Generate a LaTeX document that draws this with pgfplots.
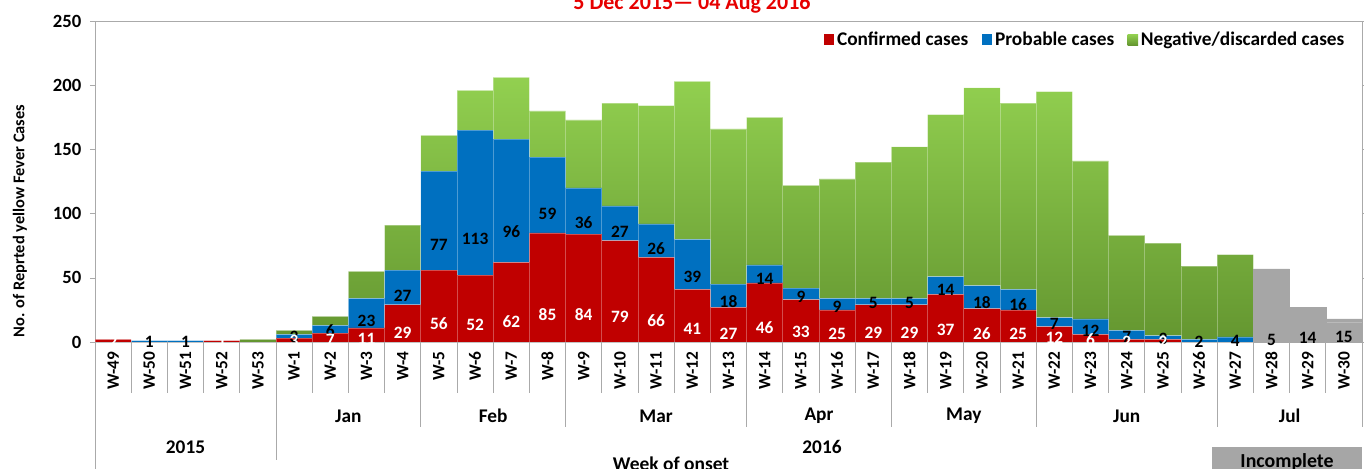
\documentclass[border=0pt]{standalone}
\usepackage{fontspec}
\setmainfont{Carlito}
\usepackage{pgfplots}
\usepackage{pgfplotstable}
\pgfplotsset{compat=1.18}

\definecolor{cred}{RGB}{192,0,0}
\definecolor{cblue}{RGB}{0,112,192}
\definecolor{cgtop}{RGB}{146,208,80}
\definecolor{cgbot}{RGB}{100,150,48}
\definecolor{cgray}{RGB}{166,166,166}
\definecolor{axgray}{RGB}{170,170,170}
\definecolor{ttlred}{RGB}{230,0,0}

\pgfplotstableread{
idx conf prob neg
0 2 0 0
1 0 1 0
2 0 1 0
3 1 0 0
4 0 0 2
5 3 3 3
6 7 6 7
7 11 23 21
8 29 27 35
9 56 77 28
10 52 113 31
11 62 96 48
12 85 59 36
13 84 36 53
14 79 27 80
15 66 26 92
16 41 39 123
17 27 18 121
18 46 14 115
19 33 9 80
20 25 9 93
21 29 5 106
22 29 5 118
23 37 14 126
24 26 18 154
25 25 16 145
26 12 7 176
27 6 12 123
28 2 7 74
29 2 3 72
30 0 2 57
31 0 4 64
}\maindata

\pgfplotstableread{
idx conf prob neg
32 0 5 52
33 0 14 13
34 0 15 3
}\graydata

\newcommand{\fs}[1]{\fontsize{#1}{#1}\selectfont\bfseries}

\begin{document}
\begin{tikzpicture}
\useasboundingbox (0,0) rectangle (1023pt,351pt);
\pgfplotsset{
  base/.style={scale only axis, width=950.25pt, height=240.75pt,
    at={(71.25pt,94.5pt)}, anchor=south west,
    xmin=-0.5, xmax=34.5, ymin=0, ymax=250,
    ybar stacked, bar width=1, enlargelimits=false, clip=false,
    /pgf/number format/assume math mode=true},
  barline/.style={draw=white, draw opacity=0.3, line width=0.5pt},
  conflab/.style={nodes near coords, point meta=explicit,
    visualization depends on={rawy \as \myv},
    every node near coord/.append style={font=\fs{13}, text=white, anchor=center, inner sep=0pt, yshift={-0.24075pt*\myv}}},
  problab/.style={nodes near coords, point meta=explicit,
    visualization depends on={rawy \as \myv},
    every node near coord/.append style={font=\fs{13}, text=black, anchor=center, inner sep=0pt, yshift={-0.24075pt*\myv}}},
}
\begin{axis}[base,
  axis line style={draw=axgray},
  ytick={0,50,...,250},
  ytick style={draw=axgray},
  tick align=outside, major tick length=3.75pt,
  yticklabel style={font=\fs{14}, xshift=-3pt},
  xtick={0,...,34},
  xtick style={draw=none},
  xticklabels={W-49,W-50,W-51,W-52,W-53,W-1,W-2,W-3,W-4,W-5,W-6,W-7,W-8,W-9,W-10,W-11,W-12,W-13,W-14,W-15,W-16,W-17,W-18,W-19,W-20,W-21,W-22,W-23,W-24,W-25,W-26,W-27,W-28,W-29,W-30},
  xticklabel style={rotate=90, anchor=east, font=\fs{13}},
  legend style={at={(1,1)}, anchor=north east, xshift=-8pt, yshift=-4pt,
    draw=none, fill=none, legend columns=-1, font=\fs{14.5},
    /tikz/every even column/.append style={column sep=8pt}},
  legend image code/.code={\path[#1, draw=none] (0pt,-4pt) rectangle (8pt,4pt);},
]
\addplot[fill=cred, barline, conflab] table[x=idx, y=conf, meta=conf] {\maindata};
\addlegendentry{Confirmed cases}
\addplot[fill=cblue, barline, problab] table[x=idx, y=prob, meta=prob] {\maindata};
\addlegendentry{Probable cases}
\addplot[top color=cgtop, bottom color=cgbot, barline] table[x=idx, y=neg] {\maindata};
\addlegendentry{Negative/discarded cases}
\end{axis}

\begin{axis}[base, hide axis]
\addplot[fill=cgray, draw=cgray, line width=0.3pt, conflab] table[x=idx, y=conf, meta=conf] {\graydata};
\addplot[fill=cgray, draw=cgray, line width=0.3pt, problab] table[x=idx, y=prob, meta=prob] {\graydata};
\addplot[fill=cgray, draw=cgray, line width=0.3pt] table[x=idx, y=neg] {\graydata};
\end{axis}

\begin{scope}[x=0.75pt, y=-0.75pt, shift={(0pt,351pt)}]
  % week separators
  \foreach \k in {0,...,35} \draw[axgray, line width=0.6pt] ({95+\k*36.2},342) -- ({95+\k*36.2},393);
  % month separators
  \foreach \k in {9,13,18,22,26,31,35} \draw[axgray, line width=0.6pt] ({95+\k*36.2},393) -- ({95+\k*36.2},427);
  % year separators
  \draw[axgray, line width=0.6pt] ({95+5*36.2},393) -- ({95+5*36.2},460);
  \draw[axgray, line width=0.6pt] (95,393) -- (95,480);
  % month labels
  \foreach \c/\m in {7/Jan,11/Feb,15.5/Mar,20/Apr,24/May,28.5/Jun,33/Jul}
    \node[font=\fs{14.5}, anchor=center] at ({95+\c*36.2},416) {\m};
  \node[font=\fs{14.5}, anchor=center] at (185.5,447) {2015};
  \node[font=\fs{14.5}, anchor=center] at (822,447) {2016};
  \node[font=\fs{14.6}, anchor=base] at (671,470) {Week of onset};
  \fill[cgray] (1212,447) rectangle (1362,480);
  \node[font=\fs{14.9}, anchor=base] at (1287,467) {Incomplete};
  % title
  \node[font=\fs{16.5}, text=ttlred, anchor=base] at (692,10) {5 Dec 2015— 04 Aug 2016};
  % y label
  \node[font=\fs{12.3}, rotate=90, anchor=center] at (20,221) {No. of Reprted yellow Fever Cases};
\end{scope}
\end{tikzpicture}
\end{document}
